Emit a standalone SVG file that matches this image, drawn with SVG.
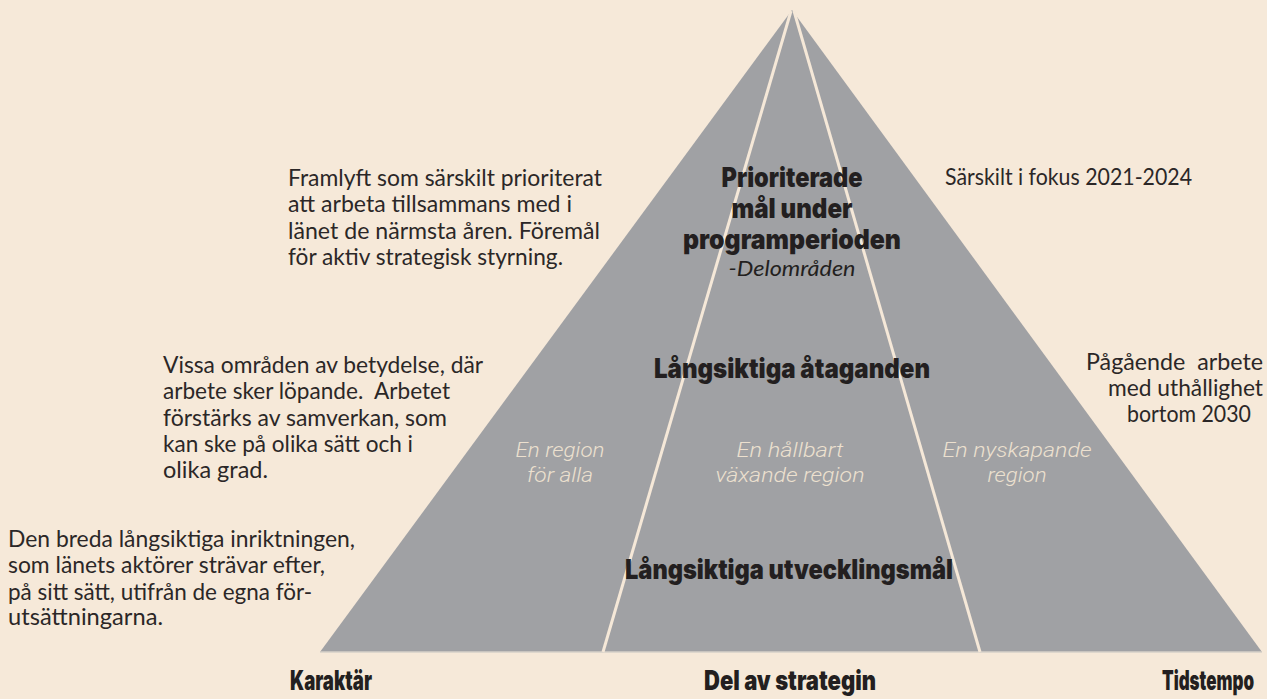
<svg xmlns="http://www.w3.org/2000/svg" width="1267" height="699" viewBox="0 0 1267 699">
<style>
.body{font-family:"Lato","Liberation Sans",sans-serif;font-size:22.5px;fill:#2b2727}
.head{font-family:"Inter","Roboto","Liberation Sans",sans-serif;font-weight:900;font-size:27px;fill:#231f20;text-anchor:middle}
.axis{font-family:"Inter","Roboto","Liberation Sans",sans-serif;font-weight:900;font-size:27px;fill:#231f20;text-anchor:middle}
.it{font-family:"Liberation Sans Narrow","Roboto","Liberation Sans",sans-serif;font-style:italic;font-weight:300;font-size:21px;fill:#ece0cf;text-anchor:middle}
.sub{font-family:"Lato","Liberation Sans",sans-serif;font-style:italic;font-size:22px;fill:#231f20;text-anchor:middle}
.div{stroke:#f5e8d8;stroke-width:3;fill:none}
</style>
<rect x="0" y="0" width="1267" height="699" fill="#f6e9d9"/>
<g id="pyramid">
<polygon points="792,10 1262,652 320,652" fill="#a0a1a4"/>
<line x1="320" y1="652" x2="1262" y2="652" stroke="#d6d0c8" stroke-width="1.5"/>
</g>
<g id="connectors">
<line class="div" x1="791" y1="11" x2="603" y2="652"/>
<line class="div" x1="794" y1="11" x2="980" y2="652"/>
</g>
<g id="top-level">
<text class="head" x="792" y="187" textLength="141" lengthAdjust="spacingAndGlyphs">Prioriterade</text>
<text class="head" x="792" y="218" textLength="121" lengthAdjust="spacingAndGlyphs">mål under</text>
<text class="head" x="792" y="249" textLength="218" lengthAdjust="spacingAndGlyphs">programperioden</text>
<text class="sub" x="792" y="276" textLength="127" lengthAdjust="spacingAndGlyphs">-Delområden</text>
</g>
<g id="mid-level">
<text class="head" x="792" y="378" textLength="276" lengthAdjust="spacingAndGlyphs">Långsiktiga åtaganden</text>
</g>
<g id="bottom-level">
<text class="head" x="789" y="579" textLength="328" lengthAdjust="spacingAndGlyphs">Långsiktiga utvecklingsmål</text>
</g>
<g id="region-alla">
<text class="it" x="560" y="457" textLength="89" lengthAdjust="spacingAndGlyphs">En region</text>
<text class="it" x="560" y="482" textLength="66" lengthAdjust="spacingAndGlyphs">för alla</text>
</g>
<g id="region-hallbart">
<text class="it" x="790" y="457" textLength="107" lengthAdjust="spacingAndGlyphs">En hållbart</text>
<text class="it" x="790" y="482" textLength="149" lengthAdjust="spacingAndGlyphs">växande region</text>
</g>
<g id="region-nyskapande">
<text class="it" x="1017" y="457" textLength="149" lengthAdjust="spacingAndGlyphs">En nyskapande</text>
<text class="it" x="1017" y="482" textLength="59" lengthAdjust="spacingAndGlyphs">region</text>
</g>
<g id="desc-top">
<text class="body" x="288" y="186" textLength="314" lengthAdjust="spacingAndGlyphs">Framlyft som särskilt prioriterat</text>
<text class="body" x="288" y="212" textLength="284" lengthAdjust="spacingAndGlyphs">att arbeta tillsammans med i</text>
<text class="body" x="288" y="239" textLength="312" lengthAdjust="spacingAndGlyphs">länet de närmsta åren. Föremål</text>
<text class="body" x="288" y="265" textLength="275" lengthAdjust="spacingAndGlyphs">för aktiv strategisk styrning.</text>
</g>
<g id="desc-mid">
<text class="body" x="163" y="373" textLength="320" lengthAdjust="spacingAndGlyphs">Vissa områden av betydelse, där</text>
<text class="body" x="163" y="399" textLength="287" lengthAdjust="spacingAndGlyphs" xml:space="preserve">arbete sker löpande.  Arbetet</text>
<text class="body" x="163" y="426" textLength="284" lengthAdjust="spacingAndGlyphs">förstärks av samverkan, som</text>
<text class="body" x="163" y="452" textLength="250" lengthAdjust="spacingAndGlyphs">kan ske på olika sätt och i</text>
<text class="body" x="163" y="478" textLength="105" lengthAdjust="spacingAndGlyphs">olika grad.</text>
</g>
<g id="desc-bottom">
<text class="body" x="8" y="547" textLength="347" lengthAdjust="spacingAndGlyphs">Den breda långsiktiga inriktningen,</text>
<text class="body" x="8" y="573" textLength="317" lengthAdjust="spacingAndGlyphs">som länets aktörer strävar efter,</text>
<text class="body" x="8" y="600" textLength="304" lengthAdjust="spacingAndGlyphs">på sitt sätt, utifrån de egna för-</text>
<text class="body" x="8" y="625" textLength="155" lengthAdjust="spacingAndGlyphs">utsättningarna.</text>
</g>
<g id="time-top">
<text class="body" x="945" y="185" textLength="247" lengthAdjust="spacingAndGlyphs">Särskilt i fokus 2021-2024</text>
</g>
<g id="time-mid">
<text class="body" x="1086" y="370" textLength="177" lengthAdjust="spacingAndGlyphs" xml:space="preserve">Pågående  arbete</text>
<text class="body" x="1108" y="396" textLength="155" lengthAdjust="spacingAndGlyphs">med uthållighet</text>
<text class="body" x="1127" y="422" textLength="124" lengthAdjust="spacingAndGlyphs">bortom 2030</text>
</g>
<g id="axis-labels">
<text class="axis" x="331" y="690" textLength="82" lengthAdjust="spacingAndGlyphs">Karaktär</text>
<text class="axis" x="790" y="690" textLength="172" lengthAdjust="spacingAndGlyphs">Del av strategin</text>
<text class="axis" x="1208" y="690" textLength="92" lengthAdjust="spacingAndGlyphs">Tidstempo</text>
</g>
</svg>
